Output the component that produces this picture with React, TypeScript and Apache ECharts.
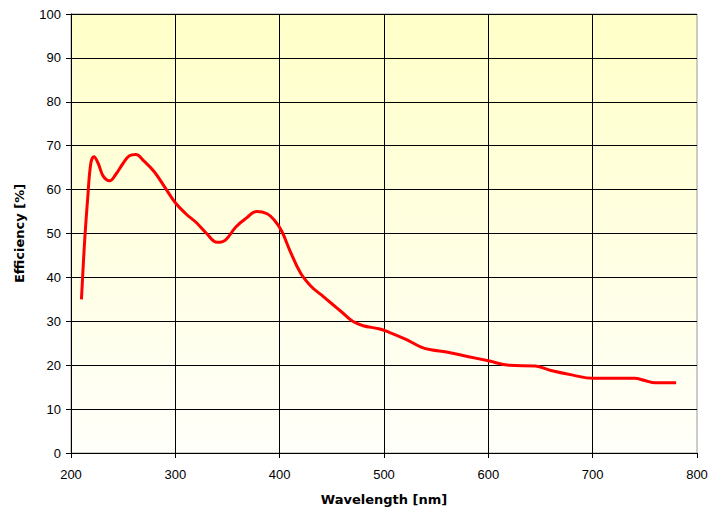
import React, { useEffect, useRef } from "react";
import * as echarts from "echarts";

const wavelengths = [210, 213, 216, 219, 222, 226, 231, 237, 243, 250, 256, 262, 270, 280, 290, 300, 310, 320, 330, 340, 348, 358, 368, 378, 388, 395, 402, 410, 420, 430, 440, 450, 460, 470, 480, 495, 505, 520, 535, 545, 560, 580, 600, 620, 645, 660, 680, 700, 720, 740, 750, 760, 780];
const efficiency = [35, 48, 58, 66, 67.5, 66, 63, 62, 63.5, 66, 67.7, 68, 66.5, 64, 60.5, 57, 54.5, 52.5, 50, 48, 48.5, 51.5, 53.5, 55, 54.5, 53, 50.5, 46, 41, 38, 36, 34, 32, 30, 29, 28.3, 27.5, 26, 24.2, 23.5, 23, 22, 21, 20, 19.8, 18.8, 17.8, 17, 17, 17, 16.5, 16, 16];

const xTitle = "Wavelength [nm]";
const yTitle = "Efficiency [%]";

export default function App() {
  const ref = useRef<HTMLDivElement>(null);
  useEffect(() => {
    if (!ref.current) return;
    const chart = echarts.init(ref.current, null, { renderer: "svg" });
    const data = wavelengths.map((w, i) => [w, efficiency[i]]);
    const tickFont = { color: "#000", fontSize: 13, fontFamily: "Liberation Sans, Arial, sans-serif" };
    chart.setOption({
      animation: false,
      backgroundColor: "#fff",
      grid: {
        left: 71,
        right: 21,
        top: 14,
        bottom: 59,
        show: true,
        borderWidth: 1,
        borderColor: "#999",
        backgroundColor: new echarts.graphic.LinearGradient(0, 0, 0, 1, [
          { offset: 0, color: "#FFFFC8" },
          { offset: 1, color: "#FFFFFA" },
        ]),
      },
      xAxis: {
        type: "value",
        min: 200,
        max: 800,
        interval: 100,
        name: xTitle,
        nameLocation: "middle",
        nameGap: 40,
        nameTextStyle: { color: "#000", fontSize: 13, fontWeight: "bold", fontFamily: "DejaVu Sans, sans-serif" },
        axisLine: { show: true, lineStyle: { color: "#000", width: 1 } },
        axisTick: { show: true, length: 5, lineStyle: { color: "#000" } },
        axisLabel: { ...tickFont, margin: 15 },
        splitLine: { show: true, showMaxLine: false, lineStyle: { color: "#000", width: 1 } },
      },
      yAxis: {
        type: "value",
        min: 0,
        max: 100,
        interval: 10,
        name: yTitle,
        nameLocation: "middle",
        nameGap: 45,
        nameRotate: 90,
        nameTextStyle: { color: "#000", fontSize: 13, fontWeight: "bold", fontFamily: "DejaVu Sans, sans-serif" },
        axisLine: { show: true, lineStyle: { color: "#000", width: 1 } },
        axisTick: { show: true, length: 5, lineStyle: { color: "#000" } },
        axisLabel: { ...tickFont, margin: 10 },
        splitLine: { show: true, lineStyle: { color: "#000", width: 1 } },
      },
      series: [
        {
          type: "line",
          data,
          smooth: 0.4,
          showSymbol: false,
          lineStyle: { color: "#FF0000", width: 3 },
        },
      ],
    });
    return () => chart.dispose();
  }, []);
  return <div ref={ref} style={{ width: 718, height: 512, position: "absolute", left: 0, top: 0 }} />;
}
